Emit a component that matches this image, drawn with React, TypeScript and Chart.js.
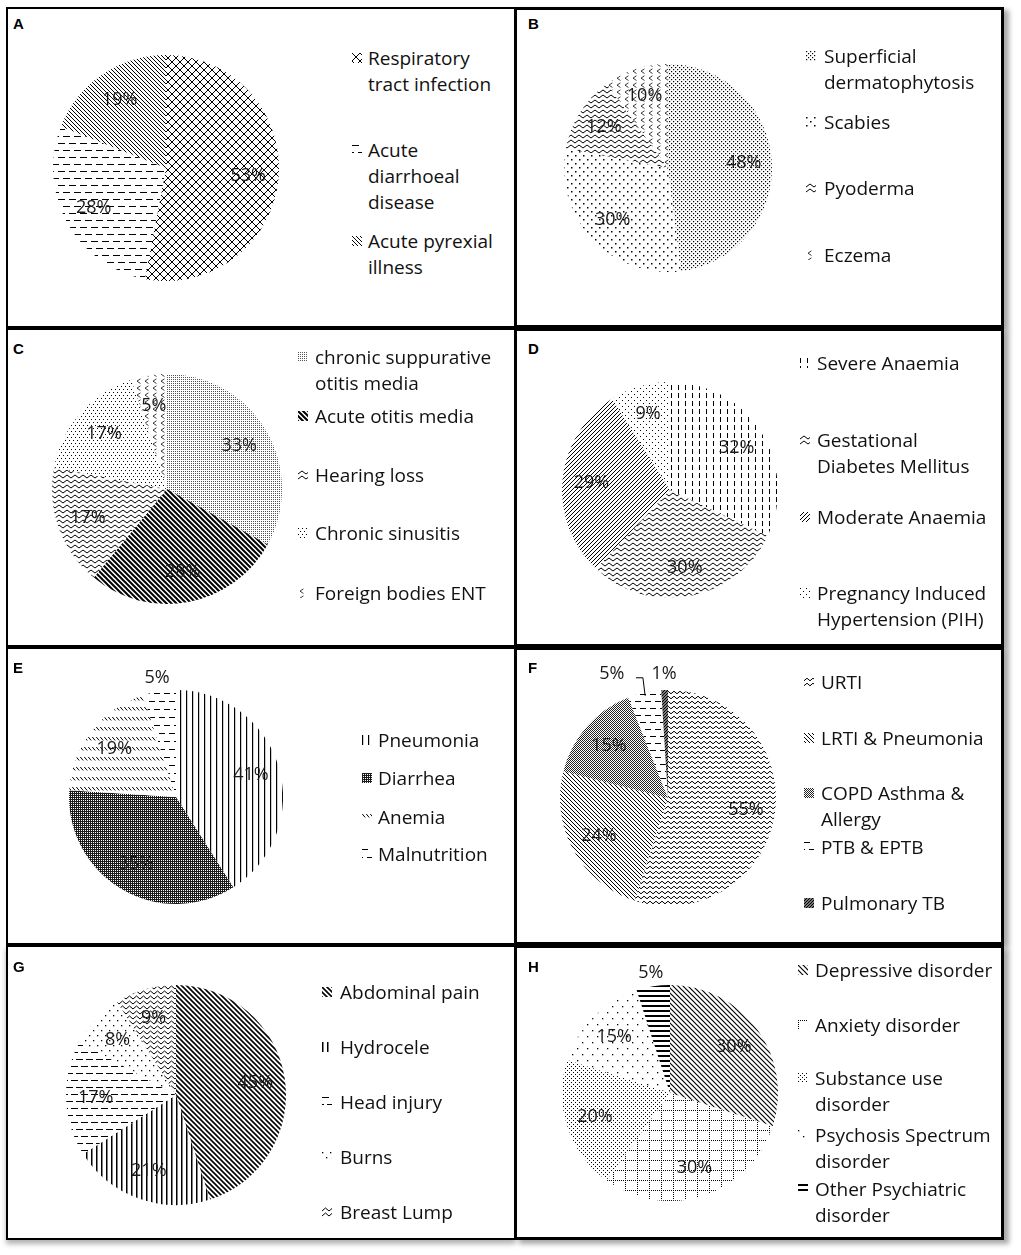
import React, { useEffect, useRef } from 'react';
import { Chart, registerables } from 'chart.js';

Chart.register(...registerables);

// ---------------- data ----------------
const aLabels = ['Respiratory\ntract infection', 'Acute\ndiarrhoeal\ndisease', 'Acute pyrexial\nillness'];
const aValues = [53, 28, 19];
const bLabels = ['Superficial\ndermatophytosis', 'Scabies', 'Pyoderma', 'Eczema'];
const bValues = [48, 30, 12, 10];
const cLabels = ['chronic suppurative\notitis media', 'Acute otitis media', 'Hearing loss', 'Chronic sinusitis', 'Foreign bodies ENT'];
const cValues = [33, 28, 17, 17, 5];
const dLabels = ['Severe Anaemia', 'Gestational\nDiabetes Mellitus', 'Moderate Anaemia', 'Pregnancy Induced\nHypertension (PIH)'];
const dValues = [32, 30, 29, 9];
const eLabels = ['Pneumonia', 'Diarrhea', 'Anemia', 'Malnutrition'];
const eValues = [41, 35, 19, 5];
const fLabels = ['URTI', 'LRTI & Pneumonia', 'COPD Asthma &\nAllergy', 'PTB & EPTB', 'Pulmonary TB'];
const fValues = [55, 24, 15, 5, 1];
const gLabels = ['Abdominal pain', 'Hydrocele', 'Head injury', 'Burns', 'Breast Lump'];
const gValues = [45, 21, 17, 8, 9];
const hLabels = ['Depressive disorder', 'Anxiety disorder', 'Substance use\ndisorder', 'Psychosis Spectrum\ndisorder', 'Other Psychiatric\ndisorder'];
const hValues = [30, 30, 20, 15, 5];
const panelLetters = ['A', 'B', 'C', 'D', 'E', 'F', 'G', 'H'];

// ---------------- patterns (styles) ----------------
type Pat =
  | { k: 'dots'; dx: number; dy: number; st?: boolean; sz?: number; c?: string }
  | { k: 'lines'; dir: 'h' | 'v' | 'b' | 'f'; s: number; lw: number; c?: string }
  | { k: 'dash'; dir: 'h' | 'v'; s: number; len: number; gap: number; st?: boolean; c?: string }
  | { k: 'cross'; s: number; c?: string }
  | { k: 'wave'; w: number; h: number; a: number; c?: string }
  | { k: 'chev'; w: number; h: number; c?: string }
  | { k: 'mesh'; c?: string }
  | { k: 'check'; c?: string }
  | { k: 'ddiag'; w: number; h: number; c?: string }
  | { k: 'dgrid'; w: number; h: number; c?: string };

function makeTile(p: Pat): HTMLCanvasElement {
  const c = document.createElement('canvas');
  let w = 8, h = 8;
  switch (p.k) {
    case 'dots': w = p.dx; h = p.st ? p.dy * 2 : p.dy; break;
    case 'lines':
      if (p.dir === 'h') { w = 4; h = p.s; } else if (p.dir === 'v') { w = p.s; h = 4; } else { w = p.s; h = p.s; }
      break;
    case 'dash':
      if (p.dir === 'h') { w = p.len + p.gap; h = p.st ? p.s * 2 : p.s; } else { h = p.len + p.gap; w = p.st ? p.s * 2 : p.s; }
      break;
    case 'cross': w = h = p.s; break;
    case 'wave': w = p.w; h = p.h; break;
    case 'chev': w = p.w; h = p.h; break;
    case 'mesh': w = h = 4; break;
    case 'check': w = h = 2; break;
    case 'ddiag': w = p.w; h = p.h; break;
    case 'dgrid': w = p.w; h = p.h; break;
  }
  c.width = w; c.height = h;
  const g = c.getContext('2d')!;
  g.fillStyle = '#fff';
  g.fillRect(0, 0, w, h);
  const col = (p as any).c || '#000';
  g.fillStyle = col;
  g.strokeStyle = col;
  g.lineWidth = 1;
  switch (p.k) {
    case 'dots': {
      const sz = p.sz || 1;
      g.fillRect(0, 0, sz, sz);
      if (p.st) g.fillRect(p.dx / 2, p.dy, sz, sz);
      break;
    }
    case 'lines': {
      if (p.dir === 'h') g.fillRect(0, 0, w, p.lw);
      else if (p.dir === 'v') g.fillRect(0, 0, p.lw, h);
      else {
        g.lineWidth = p.lw;
        g.beginPath();
        for (let k = -1; k <= 1; k++) {
          if (p.dir === 'b') { g.moveTo(k * p.s - 1, -1); g.lineTo(k * p.s + p.s + 1, p.s + 1); }
          else { g.moveTo(k * p.s - 1, p.s + 1); g.lineTo(k * p.s + p.s + 1, -1); }
        }
        g.stroke();
      }
      break;
    }
    case 'dash': {
      if (p.dir === 'h') {
        g.fillRect(0, 0, p.len, 1);
        if (p.st) { const o = Math.round(w / 2); g.fillRect(o, p.s, p.len, 1); g.fillRect(o - w, p.s, p.len, 1); }
      } else {
        g.fillRect(0, 0, 1, p.len);
        if (p.st) { const o = Math.round(h / 2); g.fillRect(p.s, o, 1, p.len); g.fillRect(p.s, o - h, 1, p.len); }
      }
      break;
    }
    case 'cross': {
      g.beginPath();
      for (let k = -1; k <= 1; k++) {
        g.moveTo(k * p.s - 1, -1); g.lineTo(k * p.s + p.s + 1, p.s + 1);
        g.moveTo(k * p.s - 1, p.s + 1); g.lineTo(k * p.s + p.s + 1, -1);
      }
      g.stroke();
      break;
    }
    case 'wave': {
      const m = h / 2;
      g.beginPath();
      g.moveTo(-w / 2, m - p.a);
      g.lineTo(0, m + p.a);
      g.lineTo(w / 2, m - p.a);
      g.lineTo(w, m + p.a);
      g.lineTo(w * 1.5, m - p.a);
      g.stroke();
      break;
    }
    case 'chev': {
      g.lineWidth = 0.9;
      g.beginPath();
      g.moveTo(w * 0.68, h * 0.12);
      g.lineTo(w * 0.25, h * 0.45);
      g.lineTo(w * 0.68, h * 0.78);
      g.stroke();
      break;
    }
    case 'mesh': {
      g.fillRect(0, 0, w, h);
      g.fillStyle = '#fff';
      g.fillRect(1, 1, 1, 1);
      g.fillRect(3, 3, 1, 1);
      g.fillRect(1, 3, 1, 1);
      g.fillRect(3, 1, 1, 1);
      break;
    }
    case 'check': {
      g.fillRect(0, 0, 1, 1);
      g.fillRect(1, 1, 1, 1);
      break;
    }
    case 'ddiag': {
      g.beginPath();
      g.moveTo(0.3, 2);
      g.lineTo(w - 0.8, 2 + (w - 1.1) * 1.2);
      g.stroke();
      break;
    }
    case 'dgrid': {
      for (let y = 0; y < h; y += 2) g.fillRect(0, y, 1, 1);
      for (let x = 0; x < w; x += 2) g.fillRect(x, 0, 1, 1);
      break;
    }
  }
  return c;
}

// ---------------- layout ----------------
type Outside = { f: number; dx?: number; dy?: number; leader?: boolean };
type PanelCfg = {
  letter: string;
  labels: string[];
  values: number[];
  pats: Pat[];
  box: [number, number, number, number]; // x0, y0, x1, y1
  bw: number;
  shadow?: string;
  letterPos: [number, number];
  cx: number; cy: number; r: number;
  swX: number; txX: number; itemY: number[];
  outside?: Record<number, Outside>;
};

const LF = 0.73;
const FONT = '"Open Sans", "Noto Sans", sans-serif';

const panels: PanelCfg[] = [
  {
    letter: panelLetters[0], labels: aLabels, values: aValues,
    pats: [{ k: 'cross', s: 8 }, { k: 'dash', dir: 'h', s: 7, len: 7, gap: 4, st: true }, { k: 'lines', dir: 'b', s: 4, lw: 1 }],
    box: [6, 7, 516, 328], bw: 2, letterPos: [13, 18],
    cx: 166, cy: 168, r: 113, swX: 352, txX: 368, itemY: [58, 150, 241],
  },
  {
    letter: panelLetters[1], labels: bLabels, values: bValues,
    pats: [{ k: 'dots', dx: 4, dy: 2, st: true, sz: 1.2 }, { k: 'dots', dx: 8, dy: 4, st: true, sz: 1.5 }, { k: 'wave', w: 8, h: 5, a: 1.5 }, { k: 'chev', w: 8, h: 7, c: '#222' }],
    box: [514, 7, 1004, 328], bw: 3, shadow: '5px 3px 5px rgba(0,0,0,0.35)', letterPos: [528, 18],
    cx: 668, cy: 168, r: 104, swX: 806, txX: 824, itemY: [56, 122, 188, 255],
  },
  {
    letter: panelLetters[2], labels: cLabels, values: cValues,
    pats: [{ k: 'dots', dx: 2, dy: 2, c: '#555' }, { k: 'lines', dir: 'b', s: 5, lw: 2 }, { k: 'wave', w: 8, h: 5, a: 1.5 }, { k: 'dots', dx: 4, dy: 3, st: true }, { k: 'chev', w: 8, h: 7, c: '#222' }],
    box: [6, 328, 516, 647], bw: 2, letterPos: [13, 343],
    cx: 167, cy: 489, r: 115, swX: 298, txX: 315, itemY: [357, 416, 475, 533, 593],
  },
  {
    letter: panelLetters[3], labels: dLabels, values: dValues,
    pats: [{ k: 'dash', dir: 'v', s: 7, len: 5, gap: 3 }, { k: 'wave', w: 8, h: 5, a: 1.5 }, { k: 'lines', dir: 'f', s: 4, lw: 1 }, { k: 'dots', dx: 6, dy: 3, st: true }],
    box: [514, 328, 1004, 647], bw: 3, shadow: '5px 3px 5px rgba(0,0,0,0.35)', letterPos: [528, 343],
    cx: 670, cy: 490, r: 108, swX: 800, txX: 817, itemY: [363, 440, 517, 593],
  },
  {
    letter: panelLetters[4], labels: eLabels, values: eValues,
    pats: [{ k: 'lines', dir: 'v', s: 6, lw: 1.2 }, { k: 'mesh', c: '#1a1a1a' }, { k: 'ddiag', w: 4, h: 10 }, { k: 'dash', dir: 'h', s: 8, len: 6, gap: 4, st: true }],
    box: [6, 647, 516, 945], bw: 2, letterPos: [13, 662],
    cx: 176, cy: 797, r: 107, swX: 362, txX: 378, itemY: [740, 778, 817, 854],
    outside: { 3: { f: 1.13 } },
  },
  {
    letter: panelLetters[5], labels: fLabels, values: fValues,
    pats: [{ k: 'wave', w: 6, h: 5, a: 1.3 }, { k: 'lines', dir: 'b', s: 4, lw: 1 }, { k: 'check', c: '#222' }, { k: 'dash', dir: 'h', s: 7, len: 6, gap: 4, st: true }, { k: 'lines', dir: 'f', s: 3, lw: 1.5 }],
    box: [514, 647, 1004, 945], bw: 3, shadow: '5px 3px 5px rgba(0,0,0,0.35)', letterPos: [528, 662],
    cx: 668, cy: 798, r: 108, swX: 804, txX: 821, itemY: [682, 738, 793, 847, 903],
    outside: { 3: { f: 1.15, dx: -29, dy: -3, leader: true }, 4: { f: 1.15 } },
  },
  {
    letter: panelLetters[6], labels: gLabels, values: gValues,
    pats: [{ k: 'lines', dir: 'b', s: 5, lw: 1.6 }, { k: 'lines', dir: 'v', s: 5, lw: 1.5 }, { k: 'dash', dir: 'h', s: 7, len: 7, gap: 3, st: true }, { k: 'dots', dx: 8, dy: 5, st: true, sz: 1.3 }, { k: 'wave', w: 7, h: 5, a: 1.5 }],
    box: [6, 945, 516, 1240], bw: 2, shadow: '0px 4px 5px rgba(0,0,0,0.3)', letterPos: [13, 961],
    cx: 176, cy: 1095, r: 110, swX: 322, txX: 340, itemY: [992, 1047, 1102, 1157, 1212],
  },
  {
    letter: panelLetters[7], labels: hLabels, values: hValues,
    pats: [{ k: 'lines', dir: 'b', s: 5, lw: 1.2 }, { k: 'dgrid', w: 12, h: 10 }, { k: 'dots', dx: 4, dy: 2, st: true }, { k: 'dots', dx: 10, dy: 6, st: true, sz: 1.3 }, { k: 'lines', dir: 'h', s: 5, lw: 2 }],
    box: [514, 945, 1004, 1240], bw: 3, shadow: '5px 4px 5px rgba(0,0,0,0.35)', letterPos: [528, 961],
    cx: 670, cy: 1093, r: 108, swX: 798, txX: 815, itemY: [970, 1025, 1078, 1135, 1189],
    outside: { 4: { f: 1.13 } },
  },
];

const M = 45; // canvas margin around pie

function PiePanel({ p }: { p: PanelCfg }) {
  const ref = useRef<HTMLCanvasElement>(null);
  const swRefs = useRef<(HTMLCanvasElement | null)[]>([]);

  useEffect(() => {
    const cv = ref.current!;
    const ctx = cv.getContext('2d')!;
    const pats = p.pats.map((pt) => ctx.createPattern(makeTile(pt), 'repeat')!);

    const labelPlugin = {
      id: 'pctLabels' + p.letter,
      afterDatasetsDraw(chart: any) {
        const meta = chart.getDatasetMeta(0);
        const g: CanvasRenderingContext2D = chart.ctx;
        g.save();
        g.font = '18px ' + FONT;
        g.fillStyle = '#1a1a1a';
        g.textAlign = 'center';
        g.textBaseline = 'middle';
        meta.data.forEach((arc: any, i: number) => {
          const { x, y, startAngle, endAngle, outerRadius } = arc.getProps(['x', 'y', 'startAngle', 'endAngle', 'outerRadius'], true);
          const mid = (startAngle + endAngle) / 2;
          const o = p.outside && p.outside[i];
          const f = o ? o.f : LF;
          const lx = x + Math.cos(mid) * outerRadius * f + (o && o.dx ? o.dx : 0);
          const ly = y + Math.sin(mid) * outerRadius * f + (o && o.dy ? o.dy : 0);
          g.fillText(p.values[i] + '%', lx, ly);
          if (o && o.leader) {
            const ex = x + Math.cos(mid) * outerRadius * 0.97;
            const ey = y + Math.sin(mid) * outerRadius * 0.97;
            g.strokeStyle = '#000';
            g.lineWidth = 1;
            g.beginPath();
            g.moveTo(lx + 24, ly + 4);
            g.lineTo(lx + 31, ly + 4);
            g.lineTo(ex, ey);
            g.stroke();
          }
        });
        g.restore();
      },
    };

    const chart = new Chart(cv, {
      type: 'pie',
      data: {
        labels: p.labels.map((l) => l.replace(/\n/g, ' ')),
        datasets: [{ data: p.values, backgroundColor: pats as any, borderWidth: 0 }],
      },
      options: {
        animation: false,
        responsive: false,
        events: [],
        layout: { padding: M },
        plugins: { legend: { display: false }, tooltip: { enabled: false } },
      },
      plugins: [labelPlugin as any],
    });

    swRefs.current.forEach((s, i) => {
      if (!s) return;
      const g = s.getContext('2d')!;
      g.clearRect(0, 0, s.width, s.height);
      g.fillStyle = g.createPattern(makeTile(p.pats[i]), 'repeat')!;
      g.fillRect(0, 0, s.width, s.height);
    });

    return () => chart.destroy();
  }, [p]);

  const [x0, y0, x1, y1] = p.box;
  const size = 2 * p.r + 2 * M;
  return (
    <>
      <div
        style={{
          position: 'absolute', left: x0, top: y0, width: x1 - x0, height: y1 - y0,
          boxSizing: 'border-box', border: `${p.bw}px solid #000`, background: '#fff',
          boxShadow: p.shadow || 'none',
        }}
      />
      <div
        style={{
          position: 'absolute', left: p.letterPos[0], top: p.letterPos[1] - 2,
          font: 'bold 15px "Liberation Sans", Arial, sans-serif', lineHeight: '15px', color: '#000',
        }}
      >
        {p.letter}
      </div>
      <canvas
        ref={ref}
        width={size}
        height={size}
        style={{ position: 'absolute', left: p.cx - p.r - M, top: p.cy - p.r - M, width: size, height: size }}
      />
      {p.labels.map((l, i) => (
        <React.Fragment key={i}>
          <canvas
            ref={(el) => { swRefs.current[i] = el; }}
            width={10}
            height={10}
            style={{ position: 'absolute', left: p.swX, top: p.itemY[i] - 5, width: 10, height: 10 }}
          />
          <div
            style={{
              position: 'absolute', left: p.txX, top: p.itemY[i] - 13.5,
              font: `19px ${FONT}`, lineHeight: '26px', color: '#111', whiteSpace: 'pre',
            }}
          >
            {l}
          </div>
        </React.Fragment>
      ))}
    </>
  );
}

export default function App() {
  return (
    <div style={{ position: 'absolute', left: 0, top: 0, width: 1021, height: 1255, background: '#fff', overflow: 'hidden' }}>
      {panels.map((p) => (
        <PiePanel key={p.letter} p={p} />
      ))}
    </div>
  );
}
